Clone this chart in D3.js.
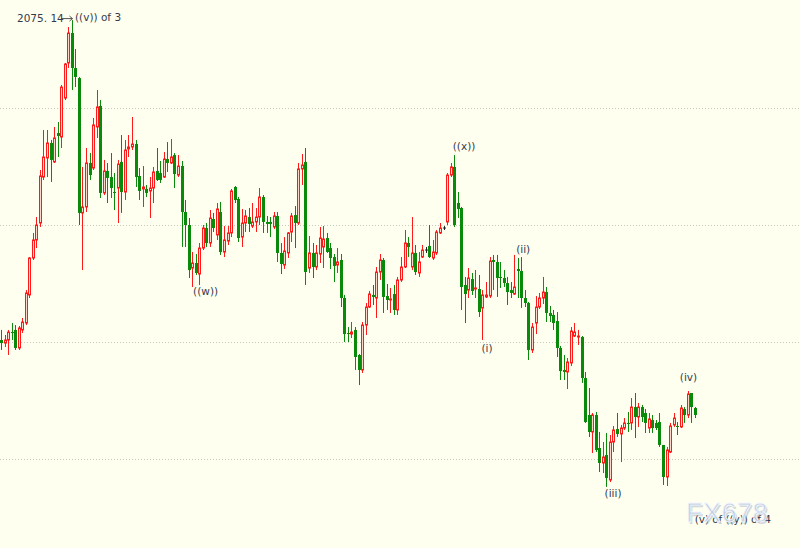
<!DOCTYPE html>
<html><head><meta charset="utf-8">
<script src="https://cdn.jsdelivr.net/npm/d3@7"></script>
<style>html,body{margin:0;padding:0;background:#fffff0;}svg{display:block;}</style>
</head><body>
<svg id="c" width="800" height="548"></svg>
<script>
// Daily gold (XAU/USD) candles: [open, high, low, close]
const opens  = [1801.7,1799.1,1801.7,1808.5,1810.3,1794.9,1810.3,1816.2,1840.2,1871.8,1887.2,1901.7,1941.0,1957.3,1970.1,1953.9,1978.6,1975.2,2008.5,2038.5,2064.1,2034.2,2025.6,1910.3,1915.4,1953.0,1948.7,1983.8,2001.7,1927.4,1946.2,1941.0,1928.2,1931.6,1953.9,1928.2,1965.0,1966.7,1969.2,1941.9,1930.8,1930.8,1929.1,1931.6,1946.2,1944.4,1941.0,1956.4,1953.0,1959.8,1942.7,1950.4,1911.1,1900.0,1863.2,1867.5,1858.1,1880.3,1897.4,1884.6,1905.1,1891.5,1911.1,1876.9,1886.3,1893.2,1932.5,1922.2,1889.7,1901.7,1906.8,1899.1,1902.6,1906.8,1923.9,1902.6,1902.6,1898.3,1907.7,1876.1,1865.8,1876.1,1894.0,1908.5,1901.7,1947.9,1953.9,1863.2,1876.1,1864.1,1875.2,1881.2,1888.9,1880.3,1872.6,1865.8,1870.1,1837.6,1807.7,1806.8,1810.3,1788.9,1776.1,1814.5,1829.9,1840.2,1837.6,1859.8,1870.1,1839.3,1835.9,1841.0,1827.4,1853.0,1864.1,1884.6,1864.1,1876.1,1859.0,1872.6,1878.6,1882.1,1871.8,1876.1,1893.2,1897.4,1902.6,1942.7,1949.6,1918.8,1914.5,1848.7,1844.4,1853.8,1845.3,1845.3,1829.1,1838.5,1839.3,1870.1,1868.4,1855.6,1854.7,1850.4,1844.4,1841.0,1862.4,1860.7,1837.6,1833.3,1793.2,1816.2,1829.9,1837.6,1842.7,1824.8,1823.1,1817.9,1794.9,1776.1,1774.4,1782.1,1805.1,1804.3,1804.3,1769.2,1737.6,1723.1,1737.6,1709.4,1696.6,1703.4,1682.1,1714.5,1725.6,1721.4,1726.5,1730.8,1730.8,1744.4,1735.9,1744.4,1739.3,1726.5,1733.3,1730.8,1731.6,1712.0,1684.6,1706.0,1729.1,1728.2,1727.4,1742.7,1737.6,1756.4,1743.6];
const highs  = [1810.3,1806.0,1810.3,1816.2,1814.5,1813.7,1820.5,1844.4,1872.6,1893.2,1906.8,1947.0,1981.2,1981.2,1972.7,1983.8,1988.0,2019.7,2038.5,2069.2,2075.14,2050.4,2026.5,1949.6,1965.8,1961.5,1991.5,2015.4,2006.8,1955.6,1953.0,1961.5,1944.4,1955.6,1976.9,1972.6,1976.9,1992.3,1972.6,1948.7,1950.4,1934.2,1941.0,1949.6,1965.8,1954.7,1962.4,1970.9,1973.5,1961.5,1959.8,1954.7,1921.4,1906.0,1876.9,1875.2,1884.6,1900.0,1901.7,1912.8,1910.3,1918.8,1919.7,1899.1,1899.1,1930.8,1933.3,1923.9,1913.7,1912.8,1914.5,1918.8,1914.5,1931.6,1925.6,1907.7,1906.8,1911.1,1911.1,1884.6,1889.7,1894.0,1910.3,1916.2,1953.0,1960.7,1965.8,1890.6,1884.6,1882.9,1898.3,1899.1,1893.2,1884.6,1875.2,1880.3,1875.2,1840.2,1812.8,1817.1,1812.8,1789.7,1817.1,1833.3,1843.6,1848.7,1864.1,1875.2,1871.8,1849.6,1846.2,1848.7,1855.6,1872.6,1895.7,1889.7,1906.8,1882.9,1876.9,1882.9,1881.2,1900.0,1887.2,1895.7,1901.7,1899.1,1944.4,1953.0,1959.8,1928.2,1915.4,1855.6,1863.2,1859.0,1861.5,1857.3,1844.4,1851.3,1872.6,1874.4,1874.4,1868.4,1861.5,1855.6,1851.3,1874.4,1871.8,1872.6,1844.4,1834.2,1816.2,1839.3,1841.9,1855.6,1847.0,1830.8,1827.4,1825.6,1796.6,1788.9,1786.3,1812.8,1816.2,1810.3,1805.1,1774.4,1760.7,1739.3,1740.2,1723.1,1714.5,1722.2,1720.5,1728.2,1739.3,1729.1,1735.0,1740.2,1752.1,1756.4,1747.9,1746.2,1742.7,1739.3,1737.6,1733.3,1739.3,1712.0,1710.3,1730.8,1739.3,1731.6,1746.2,1744.4,1758.1,1756.4,1744.4];
const lows   = [1793.2,1795.7,1788.9,1801.7,1793.2,1793.2,1807.7,1814.5,1837.6,1870.1,1880.3,1898.3,1938.5,1941.0,1936.8,1953.0,1958.1,1965.8,2006.8,2034.2,2015.4,2017.9,1900.0,1861.5,1911.1,1938.5,1947.0,1974.4,1923.1,1925.6,1918.8,1923.1,1912.8,1901.7,1910.3,1921.4,1958.1,1964.1,1932.5,1921.4,1915.4,1923.9,1906.0,1918.8,1937.6,1935.9,1940.2,1945.3,1952.1,1931.6,1941.0,1881.2,1881.2,1854.7,1847.0,1857.3,1848.7,1878.6,1881.2,1881.2,1894.0,1887.2,1874.4,1872.6,1882.9,1889.7,1918.8,1885.5,1881.2,1894.0,1894.0,1897.4,1894.0,1900.0,1893.2,1893.2,1889.7,1896.6,1868.4,1858.1,1862.4,1871.8,1885.5,1880.3,1900.0,1934.2,1848.7,1859.0,1854.7,1861.5,1867.5,1863.2,1876.1,1862.4,1851.3,1859.0,1829.9,1800.0,1800.0,1803.4,1776.1,1763.2,1773.5,1806.0,1829.1,1831.6,1820.5,1853.0,1824.8,1827.4,1824.8,1823.1,1823.1,1851.3,1863.2,1872.6,1861.5,1857.3,1855.6,1871.8,1876.1,1871.8,1870.1,1874.4,1892.3,1895.7,1900.0,1941.0,1898.3,1906.0,1827.4,1816.2,1837.6,1840.2,1837.6,1821.4,1801.7,1837.6,1837.6,1844.4,1838.5,1846.2,1847.0,1831.6,1837.6,1840.2,1837.6,1829.1,1829.9,1784.6,1790.6,1806.8,1828.2,1832.5,1817.1,1817.1,1810.3,1787.2,1767.5,1767.5,1759.8,1779.5,1804.3,1797.4,1765.0,1730.8,1718.8,1705.1,1706.0,1688.9,1688.0,1676.1,1680.3,1706.0,1718.8,1697.4,1724.8,1723.1,1724.8,1717.9,1727.4,1731.6,1722.2,1722.2,1722.2,1724.8,1710.3,1677.8,1676.9,1705.1,1727.4,1720.5,1726.5,1730.8,1735.0,1730.8,1735.0];
const closes = [1799.1,1801.7,1808.5,1807.7,1794.9,1812.0,1817.1,1841.9,1871.8,1887.2,1900.0,1941.9,1958.1,1970.1,1955.6,1974.4,1976.1,2017.9,2037.6,2064.1,2034.2,2026.5,1910.3,1915.4,1953.0,1942.7,1985.5,2000.9,1927.4,1946.2,1940.2,1931.6,1927.4,1952.1,1928.2,1964.1,1966.7,1969.2,1941.0,1929.1,1932.5,1927.4,1931.6,1945.3,1938.5,1938.5,1956.4,1953.0,1958.1,1943.6,1950.4,1911.1,1900.0,1861.5,1867.5,1859.0,1880.3,1897.4,1884.6,1906.0,1897.4,1913.7,1876.9,1887.2,1893.2,1929.1,1921.4,1888.9,1901.7,1907.7,1900.9,1902.6,1906.8,1923.9,1902.6,1900.9,1900.9,1907.7,1876.1,1866.7,1877.8,1893.2,1907.7,1901.7,1947.9,1951.3,1859.8,1876.1,1864.1,1876.1,1888.9,1888.0,1876.9,1871.8,1865.0,1868.4,1837.6,1806.8,1806.8,1808.5,1787.2,1776.1,1814.5,1829.9,1841.0,1838.5,1859.8,1870.1,1838.5,1835.9,1836.8,1827.4,1853.0,1864.1,1884.6,1881.2,1876.1,1859.8,1868.4,1878.6,1878.6,1872.6,1876.9,1894.0,1897.4,1897.4,1942.7,1949.6,1900.0,1913.7,1847.0,1841.0,1854.7,1843.6,1846.2,1825.6,1840.2,1840.2,1869.2,1868.4,1854.7,1854.7,1850.4,1842.7,1841.9,1847.0,1860.7,1837.6,1833.3,1793.2,1812.8,1829.9,1837.6,1842.7,1824.8,1822.2,1816.2,1794.9,1775.2,1774.4,1782.9,1809.4,1808.5,1805.1,1769.2,1731.6,1723.1,1737.6,1707.7,1696.6,1701.7,1683.8,1714.5,1724.8,1721.4,1726.5,1730.8,1729.9,1744.4,1735.9,1744.4,1735.9,1730.8,1734.2,1726.5,1726.5,1712.0,1684.6,1707.7,1728.2,1735.0,1727.4,1743.6,1737.6,1755.6,1744.4,1737.6];
const gridLevels = [1700, 1800, 1900, 2000];
// wave labels: candle position (may be fractional) and price of the text baseline
const labelPos   = [57.8, 130.8, 137.3, 147.5, 172.9, 194.2, 196.0];
const labelPrice = [1840.2, 1964.1, 1791.5, 1876.0, 1667.5, 1766.7, 1645.3];
const labelText  = ["((w))", "((x))", "(i)", "(ii)", "(iii)", "(iv)", "(v) of ((y)) of 4"];
const topPrice = "2075.14";
const topLabel = "((v)) of 3";

const svg = d3.select("#c");
const W = 800, H = 548;
svg.append("rect").attr("width", W).attr("height", H).attr("fill", "#fffff0");

const N = opens.length;
const idx = d3.range(N);
const x = d3.scaleBand().domain(idx).range([-0.77, -0.77 + 3.54 * N]).paddingInner(0);
const y = d3.scaleLinear().domain([1700, 2000]).range([459, 108]);
const cx = i => x(i) + x.bandwidth() / 2;
const xi = d3.scaleLinear().domain([0, N - 1]).range([cx(0), cx(N - 1)]);

// grid
svg.append("g").selectAll("line").data(gridLevels).join("line")
  .attr("x1", 0).attr("x2", W)
  .attr("y1", d => Math.round(y(d)) + 0.5).attr("y2", d => Math.round(y(d)) + 0.5)
  .attr("stroke", "#c8c8c0").attr("stroke-dasharray", "1,2");

const red = "#ff1a1a", green = "#0a8a0a", dojiC = "#222";
const g = svg.append("g");
idx.forEach(i => {
  const o = opens[i], h = highs[i], l = lows[i], c = closes[i];
  const up = c > o, doji = Math.abs(c - o) < 0.3;
  const col = doji ? dojiC : (up ? red : green);
  const xc = Math.round(cx(i)) + 0.5;
  g.append("line").attr("x1", xc).attr("x2", xc)
    .attr("y1", y(h)).attr("y2", y(l)).attr("stroke", col).attr("stroke-width", 1);
  const top = y(Math.max(o, c)), bot = y(Math.min(o, c));
  if (doji) {
    g.append("line").attr("x1", xc - 1.5).attr("x2", xc + 1.5)
      .attr("y1", top).attr("y2", top).attr("stroke", dojiC);
  } else if (up) {
    g.append("rect").attr("x", xc - 1).attr("y", top)
      .attr("width", 2).attr("height", Math.max(1, bot - top))
      .attr("fill", "#ffd6c8").attr("stroke", red).attr("stroke-width", 1);
  } else {
    g.append("rect").attr("x", xc - 1.5).attr("y", top)
      .attr("width", 3).attr("height", Math.max(1, bot - top))
      .attr("fill", green);
  }
});

const txtCol = "#353b4c";
const font = "DejaVu Sans, Verdana, sans-serif";
// top annotation
const hiIdx = highs.indexOf(d3.max(highs));
const hx = Math.round(cx(hiIdx)) + 0.5, hy = y(d3.max(highs));
svg.append("text").attr("x", 17).attr("y", hy + 2).attr("font-family", font)
  .attr("font-size", 10.5).attr("fill", txtCol).text(topPrice.replace(".", ". "));
svg.append("line").attr("x1", 61).attr("x2", hx).attr("y1", hy - 1.5).attr("y2", hy - 1.5)
  .attr("stroke", "#555").attr("stroke-width", 1);
svg.append("path").attr("d", `M${hx - 3},${hy - 4} L${hx},${hy - 1.5} L${hx - 3},${hy + 1}`)
  .attr("fill", "none").attr("stroke", "#555");
svg.append("text").attr("x", 75).attr("y", hy + 1).attr("font-family", font)
  .attr("font-size", 10.5).attr("fill", txtCol).text(topLabel);

// wave labels
svg.append("g").selectAll("text").data(labelText).join("text")
  .attr("x", (d, k) => xi(labelPos[k]))
  .attr("y", (d, k) => y(labelPrice[k]))
  .attr("text-anchor", d => d.length > 6 ? "start" : "middle")
  .attr("font-family", font).attr("font-size", 10.5).attr("fill", txtCol)
  .attr("textLength", d => d.length > 6 ? 76 : null)
  .text(d => d);

// watermark (drawn over the last label, as in the picture)
svg.append("text").attr("x", 687.5).attr("y", 523.5).attr("font-family", "Liberation Sans, Arial, sans-serif")
  .attr("font-size", 27).attr("fill", "#9aa8c0").attr("fill-opacity", 0.45)
  .attr("letter-spacing", 0.5).text("FX678");
svg.append("text").attr("x", 686).attr("y", 522).attr("font-family", "Liberation Sans, Arial, sans-serif")
  .attr("font-size", 27).attr("fill", "#bccbe3").attr("fill-opacity", 0.9)
  .attr("stroke", "#f4f7fc").attr("stroke-width", 0.8)
  .attr("letter-spacing", 0.5).text("FX678");
</script>
</body></html>
